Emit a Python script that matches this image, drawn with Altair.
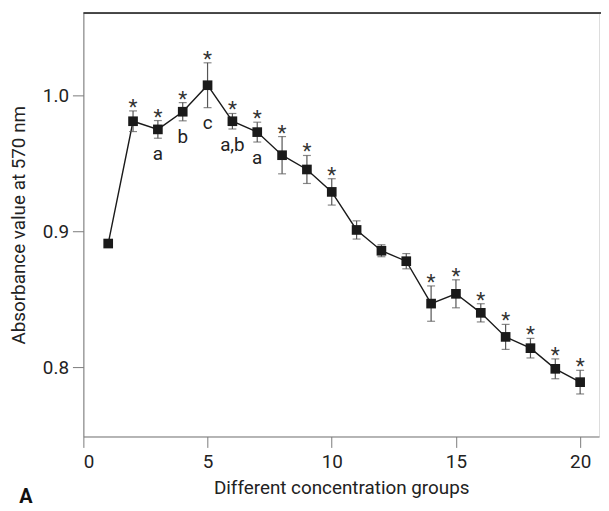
import altair as alt
import pandas as pd

groups = list(range(1, 21))
absorbance = [0.891, 0.981, 0.975, 0.988, 1.0075, 0.981, 0.973, 0.956, 0.9455, 0.929,
              0.901, 0.8857, 0.878, 0.8468, 0.854, 0.840, 0.8223, 0.814, 0.7988, 0.789]
sd = [0.0, 0.0076, 0.0065, 0.0067, 0.0165, 0.0057, 0.0073, 0.0137, 0.0103, 0.0097,
      0.0067, 0.0044, 0.0056, 0.013, 0.0103, 0.0067, 0.0092, 0.0072, 0.0073, 0.0087]
stars = ["", "*", "*", "*", "*", "*", "*", "*", "*", "*",
         "", "", "", "*", "*", "*", "*", "*", "*", "*"]
letters = ["", "", "a", "b", "c", "a,b", "a", "", "", "",
           "", "", "", "", "", "", "", "", "", ""]

FONT = "Roboto, Liberation Sans, sans-serif"

df = pd.DataFrame({"g": groups, "v": absorbance, "sd": sd, "star": stars, "letter": letters})
df["lo"] = df["v"] - df["sd"]
df["hi"] = df["v"] + df["sd"]

XMAX = 20.76
YMIN, YMAX = 0.749, 1.0606
xs = alt.Scale(domain=[0, XMAX], nice=False, zero=False)
ys = alt.Scale(domain=[YMIN, YMAX], nice=False, zero=False)

base = alt.Chart(df)

x_enc = alt.X("g:Q", scale=xs, axis=alt.Axis(
    title="Different concentration groups", values=[0, 5, 10, 15, 20], format="d",
    grid=False, domainColor="#7a7a7a", tickColor="#7a7a7a", tickSize=11,
    labelFontSize=19, labelColor="#222222", labelFont=FONT, labelPadding=5,
    titleFont=FONT, titleFontSize=19, titleFontWeight="normal", titleColor="#222222",
    titlePadding=7))
y_enc = alt.Y("v:Q", scale=ys, axis=alt.Axis(
    title="Absorbance value at 570 nm", values=[0.8, 0.9, 1.0], format=".1f",
    grid=False, domainColor="#7a7a7a", tickColor="#7a7a7a", tickSize=11,
    labelFontSize=19, labelColor="#222222", labelFont=FONT, labelPadding=4,
    titleFont=FONT, titleFontSize=19, titleFontWeight="normal", titleColor="#222222",
    titlePadding=14))

err = base.transform_filter("datum.sd > 0")
rules = err.mark_rule(color="#555555", strokeWidth=1.2).encode(
    x=alt.X("g:Q", scale=xs), y=alt.Y("lo:Q", scale=ys), y2="hi:Q")
cap_hi = err.mark_tick(color="#555555", thickness=1.2, size=8, orient="horizontal").encode(
    x=alt.X("g:Q", scale=xs), y=alt.Y("hi:Q", scale=ys))
cap_lo = err.mark_tick(color="#555555", thickness=1.2, size=8, orient="horizontal").encode(
    x=alt.X("g:Q", scale=xs), y=alt.Y("lo:Q", scale=ys))

line = base.mark_line(color="#1a1a1a", strokeWidth=1.4).encode(x=x_enc, y=y_enc)
pts = base.mark_square(color="#1a1a1a", opacity=1, size=95).encode(
    x=alt.X("g:Q", scale=xs), y=alt.Y("v:Q", scale=ys))

star_txt = base.transform_filter("datum.star != ''").mark_text(
    font=FONT, fontSize=21, color="#333333", baseline="middle", dy=-3).encode(
    x=alt.X("g:Q", scale=xs), y=alt.Y("hi:Q", scale=ys), text="star:N")
letter_txt = base.transform_filter("datum.letter != ''").mark_text(
    font=FONT, fontSize=19, color="#222222", baseline="middle", dy=16).encode(
    x=alt.X("g:Q", scale=xs), y=alt.Y("lo:Q", scale=ys), text="letter:N")

top_line = alt.Chart(pd.DataFrame({"t": [YMAX]})).mark_rule(color="#111111", strokeWidth=1.5).encode(
    y=alt.Y("t:Q", scale=ys), x=alt.value(0), x2=alt.value(540))

panel = alt.Chart(pd.DataFrame({"lab": ["A"]})).mark_text(
    font=FONT, fontSize=20, fontWeight="bold", color="#111111", baseline="top", align="center").encode(
    x=alt.value(-58), y=alt.value(478), text="lab:N")

chart = alt.layer(line, rules, cap_hi, cap_lo, pts, star_txt, letter_txt, top_line, panel).properties(
    width=520, height=427,
    autosize=alt.AutoSizeParams(type="none"),
    padding={"left": 76, "top": 3, "right": 2, "bottom": 71},
).configure_view(stroke=None).configure(background="white")

chart.save("out.html", embed_options={"renderer": "svg", "actions": False})
